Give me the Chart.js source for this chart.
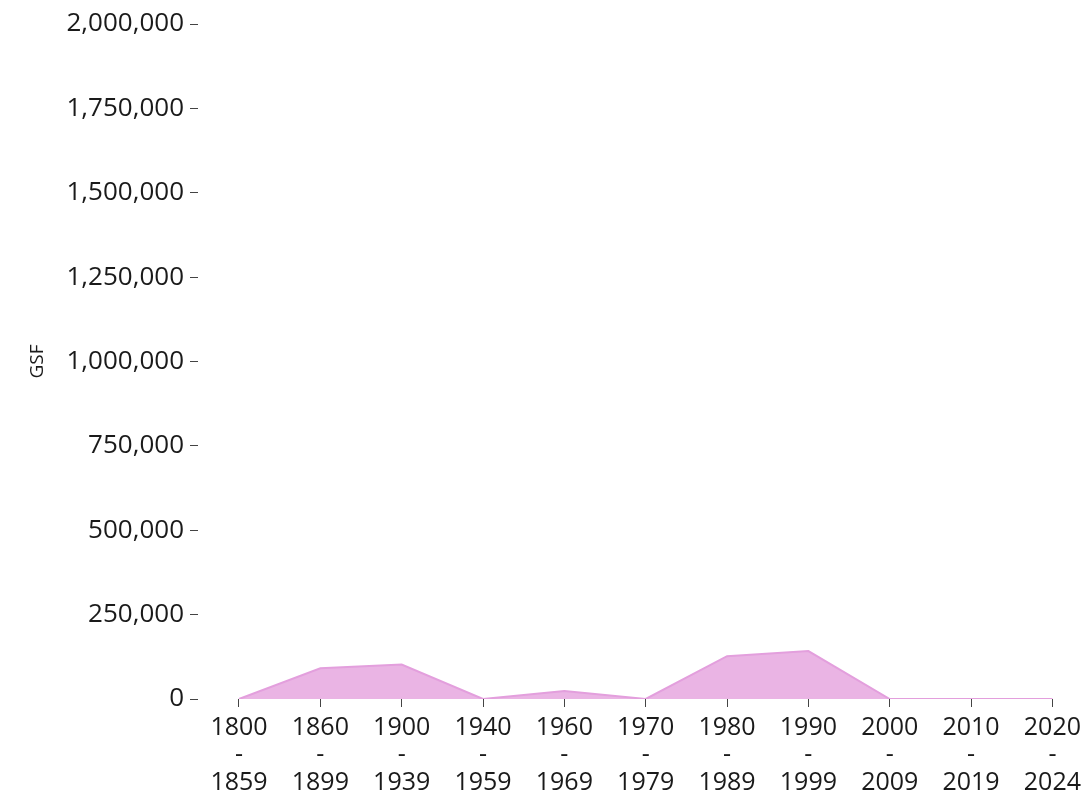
<!DOCTYPE html>
<html>
<head>
<meta charset="utf-8">
<script src="https://cdn.jsdelivr.net/npm/chart.js@4"></script>
<style>
    html, body { margin: 0; padding: 0; background: #fff; overflow: hidden; }
    #wrap { width: 1088px; height: 799px; position: relative; }
</style>
</head>
<body>
<div id="wrap"><canvas id="gsfChart"></canvas></div>
<script>
// Period start / end years (x axis) and gross square feet per period
const startYears = ['1800', '1860', '1900', '1940', '1960', '1970', '1980', '1990', '2000', '2010', '2020'];
const endYears = ['1859', '1899', '1939', '1959', '1969', '1979', '1989', '1999', '2009', '2019', '2024'];
const gsfValues = [0, 91000, 102000, 0, 24000, 0, 127000, 142000, 0, 0, 0];

// Y axis ticks
const yMax = 2000000;
const yStep = 250000;

const points = gsfValues.map((v, i) => ({ x: i, y: v }));

new Chart(document.getElementById('gsfChart'), {
    type: 'line',
    data: {
        datasets: [{
            label: 'GSF',
            data: points,
            fill: 'origin',
            backgroundColor: '#eab4e4',
            borderColor: '#e39fdd',
            borderWidth: 2,
            pointRadius: 0,
            tension: 0
        }]
    },
    options: {
        responsive: true,
        maintainAspectRatio: false,
        animation: false,
        layout: {
            padding: { top: 24, right: 0, bottom: 0, left: 0 }
        },
        plugins: {
            legend: { display: false },
            tooltip: { enabled: false }
        },
        scales: {
            x: {
                type: 'linear',
                min: -0.504,
                max: 10.43,
                afterBuildTicks: (scale) => {
                    scale.ticks = startYears.map((_, i) => ({ value: i }));
                },
                afterFit: (scale) => { scale.height = 100; },
                border: { display: false },
                grid: {
                    drawOnChartArea: false,
                    tickLength: 8,
                    color: '#444'
                },
                ticks: {
                    autoSkip: false,
                    maxRotation: 0,
                    padding: 7,
                    color: '#1a1a1a',
                    font: { family: 'Open Sans', size: 25, lineHeight: 1.1 },
                    callback: (value) => [startYears[value], '-', endYears[value]]
                }
            },
            y: {
                min: 0,
                max: yMax,
                afterFit: (scale) => { scale.width = 198; },
                border: { display: false },
                grid: {
                    drawOnChartArea: false,
                    tickLength: 8,
                    color: '#444'
                },
                ticks: {
                    stepSize: yStep,
                    padding: 6,
                    color: '#1a1a1a',
                    font: { family: 'Open Sans', size: 26 },
                    callback: (value) => value.toLocaleString('en-US')
                },
                title: {
                    display: true,
                    text: 'GSF',
                    color: '#1a1a1a',
                    font: { family: 'Open Sans', size: 19 },
                    padding: { top: 26, bottom: 0 }
                }
            }
        }
    }
});
</script>
</body>
</html>
